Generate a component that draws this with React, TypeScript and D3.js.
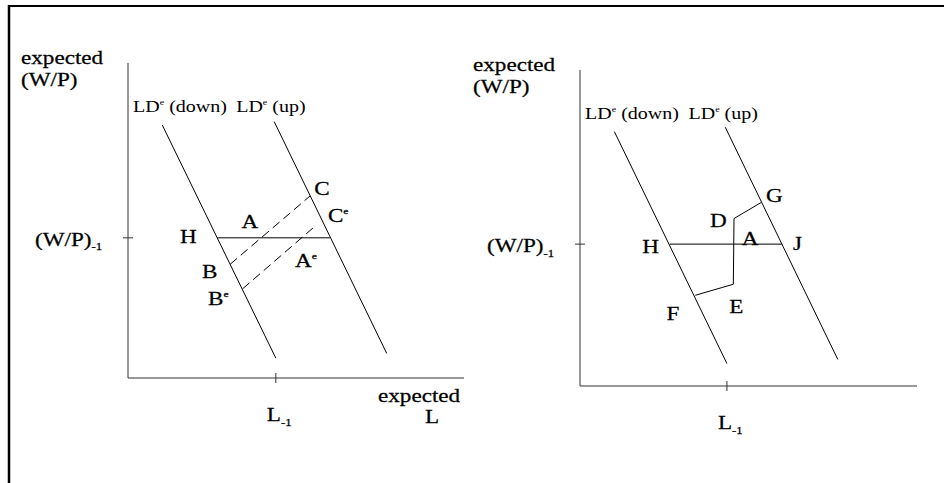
import React from 'react';
import * as d3 from 'd3';

// values are in an abstract 0..100 diagram space for each panel
const LEFT_LD_DOWN: [number, number][] = [[10.2, 80.3], [44, 6.3]];
const LEFT_LD_UP: [number, number][] = [[43.5, 81.4], [77, 7.8]];
const LEFT_WAGE_LINE: [number, number][] = [[26.6, 44.5], [60.1, 44.5]];
const LEFT_DASH_BC: [number, number][] = [[30.4, 36.1], [54.2, 57.8]];
const LEFT_DASH_BECE: [number, number][] = [[34.1, 28.3], [56, 48.5]];
const LEFT_POINT_LABELS = [
  { text: 'H', sup: '', x: 15.5, y: 42.9 },
  { text: 'A', sup: '', x: 33.8, y: 47.6 },
  { text: 'B', sup: '', x: 22.0, y: 31.7 },
  { text: 'B', sup: 'e', x: 23.8, y: 23.2 },
  { text: 'C', sup: '', x: 55.4, y: 58.1 },
  { text: 'C', sup: 'e', x: 59.5, y: 49.5 },
  { text: 'A', sup: 'e', x: 49.7, y: 35.2 },
];

const RIGHT_LD_DOWN: [number, number][] = [[10.2, 80.5], [43.6, 7.1]];
const RIGHT_LD_UP: [number, number][] = [[43.1, 81.9], [76.5, 8.4]];
const RIGHT_WAGE_LINE: [number, number][] = [[26.6, 44.9], [60, 44.9]];
const RIGHT_PATH_FEDG: [number, number][] = [[34.2, 28.7], [45.5, 32.2], [45.7, 53.0], [53.8, 58.1]];
const RIGHT_POINT_LABELS = [
  { text: 'H', sup: '', x: 18.5, y: 42.0 },
  { text: 'A', sup: '', x: 48.0, y: 44.6 },
  { text: 'J', sup: '', x: 63.2, y: 43.0 },
  { text: 'D', sup: '', x: 38.6, y: 50.3 },
  { text: 'G', sup: '', x: 55.2, y: 58.2 },
  { text: 'E', sup: '', x: 44.3, y: 23.0 },
  { text: 'F', sup: '', x: 25.7, y: 20.8 },
];

const LEFT_TICKS = { l: 44, w: 44.5 };
const RIGHT_TICKS = { l: 43.6, w: 44.9 };
const CURVE_LABELS = [
  { text: 'LD', sup: 'e', rest: ' (down)', x: 1.5, y: 84.6 },
  { text: 'LD', sup: 'e', rest: ' (up)', x: 32.2, y: 84.6 },
];

const FONT = '"Liberation Serif", "Times New Roman", serif';
const STRETCH = 1.25;

type Part = { t: string; kind?: 'sup' | 'sub' };

function Label({ x, y, size, parts, heavy }: { x: number; y: number; size: number; parts: Part[]; heavy?: boolean }) {
  let shift = 0;
  return (
    <text
      transform={`translate(${x},${y}) scale(${STRETCH},1)`}
      fontFamily={FONT}
      fontSize={size}
      fill="#000"
      stroke={heavy ? '#000' : 'none'}
      strokeWidth={heavy ? 0.25 : 0}
    >
      {parts.map((p, i) => {
        let target = 0;
        let fs = size;
        if (p.kind === 'sup') { target = -size * 0.42; fs = size * 0.5; }
        if (p.kind === 'sub') { target = size * 0.25; fs = size * 0.55; }
        const dy = target - shift;
        shift = target;
        return (
          <tspan key={i} dy={dy} fontSize={fs}>{p.t}</tspan>
        );
      })}
    </text>
  );
}

type PanelProps = {
  x0: number; x1: number; y0: number; y1: number;
  down: [number, number][]; up: [number, number][]; wage: [number, number][];
  ticks: { l: number; w: number };
  points: { text: string; sup: string; x: number; y: number }[];
  children?: (x: d3.ScaleLinear<number, number>, y: d3.ScaleLinear<number, number>) => React.ReactNode;
  xTitle?: boolean;
};

function Panel({ x0, x1, y0, y1, down, up, wage, ticks, points, children, xTitle }: PanelProps) {
  const x = d3.scaleLinear().domain([0, 100]).range([x0, x1]);
  const y = d3.scaleLinear().domain([0, 100]).range([y0, y1]);
  const line = d3.line<[number, number]>().x((d) => x(d[0])).y((d) => y(d[1]));
  const tx = x(ticks.l);
  const ty = y(ticks.w);
  return (
    <g>
      {/* axes */}
      <line x1={x0} y1={y1} x2={x0} y2={y0} stroke="#333" strokeWidth={1} />
      <line x1={x0} y1={y0} x2={x1} y2={y0} stroke="#333" strokeWidth={1.2} />
      <line x1={x0 - 5} y1={ty} x2={x0 + 5} y2={ty} stroke="#333" />
      <line x1={tx} y1={y0 - 5} x2={tx} y2={y0 + 5} stroke="#333" />

      <path d={line(down) ?? ''} fill="none" stroke="#000" strokeWidth={1} />
      <path d={line(up) ?? ''} fill="none" stroke="#000" strokeWidth={1} />
      <path d={line(wage) ?? ''} fill="none" stroke="#000" strokeWidth={1} />
      {children && children(x, y)}

      {/* titles */}
      <Label x={x0 - 107} y={y1 + 1} size={18.5} heavy parts={[{ t: 'expected' }]} />
      <Label x={x0 - 107} y={y1 + 23} size={18.5} heavy parts={[{ t: '(W/P)' }]} />
      <Label x={x0 - 93} y={ty + 8} size={18.5} heavy parts={[{ t: '(W/P)' }, { t: '-1', kind: 'sub' }]} />
      <Label x={tx - 9} y={y0 + 43} size={18.5} heavy parts={[{ t: 'L' }, { t: '-1', kind: 'sub' }]} />
      {xTitle && (
        <>
          <Label x={x1 - 86} y={y0 + 24} size={18.5} heavy parts={[{ t: 'expected' }]} />
          <Label x={x1 - 39} y={y0 + 45} size={18.5} heavy parts={[{ t: 'L' }]} />
        </>
      )}
      {CURVE_LABELS.map((c, i) => (
        <Label key={i} x={x(c.x)} y={y(c.y)} size={16}
          parts={[{ t: c.text }, { t: c.sup, kind: 'sup' }, { t: c.rest }]} />
      ))}
      {points.map((p, i) => (
        <Label key={i} x={x(p.x)} y={y(p.y)} size={18.5} heavy
          parts={p.sup ? [{ t: p.text }, { t: p.sup, kind: 'sup' }] : [{ t: p.text }]} />
      ))}
    </g>
  );
}

export default function App() {
  return (
    <svg width={944} height={483} style={{ position: 'absolute', left: 0, top: 0, background: '#fff' }}>
      {/* frame */}
      <line x1={9} y1={6} x2={944} y2={6} stroke="#000" strokeWidth={2} />
      <line x1={9} y1={5} x2={9} y2={483} stroke="#000" strokeWidth={2.5} />

      <Panel x0={128} x1={464} y0={378} y1={63}
        down={LEFT_LD_DOWN} up={LEFT_LD_UP} wage={LEFT_WAGE_LINE}
        ticks={LEFT_TICKS} points={LEFT_POINT_LABELS} xTitle>
        {(x, y) => {
          const line = d3.line<[number, number]>().x((d) => x(d[0])).y((d) => y(d[1]));
          return (
            <>
              <path d={line(LEFT_DASH_BC) ?? ''} fill="none" stroke="#000" strokeDasharray="9 5" />
              <path d={line(LEFT_DASH_BECE) ?? ''} fill="none" stroke="#000" strokeDasharray="9 5" />
            </>
          );
        }}
      </Panel>

      <Panel x0={580} x1={917} y0={386} y1={70}
        down={RIGHT_LD_DOWN} up={RIGHT_LD_UP} wage={RIGHT_WAGE_LINE}
        ticks={RIGHT_TICKS} points={RIGHT_POINT_LABELS}>
        {(x, y) => {
          const line = d3.line<[number, number]>().x((d) => x(d[0])).y((d) => y(d[1]));
          return <path d={line(RIGHT_PATH_FEDG) ?? ''} fill="none" stroke="#000" strokeWidth={1} />;
        }}
      </Panel>
    </svg>
  );
}
